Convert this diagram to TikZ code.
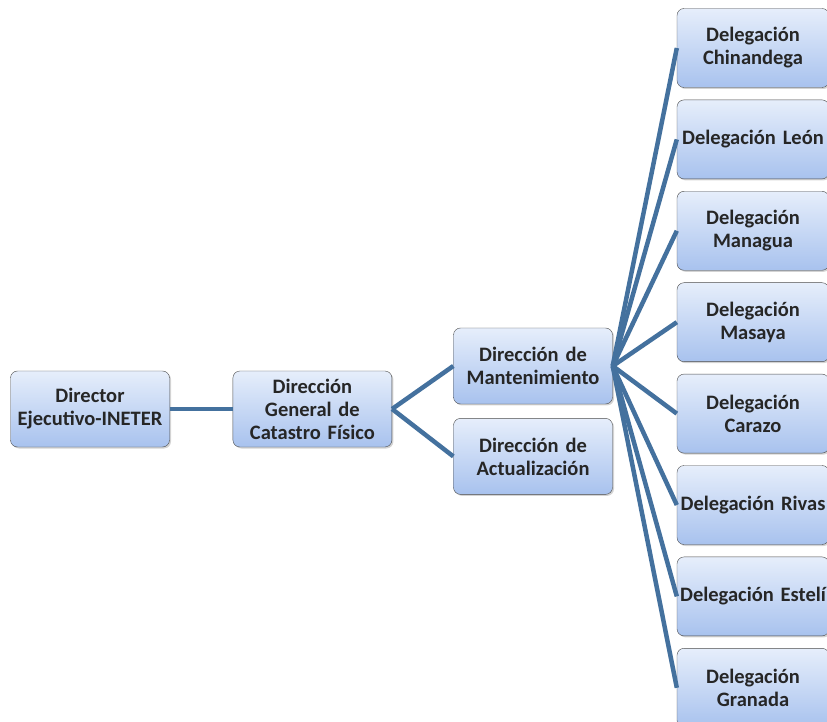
\documentclass[tikz,border=0pt]{standalone}
\usepackage{fontspec}
\setmainfont{Carlito}
\usepackage{xcolor}
\usetikzlibrary{positioning,shadows}

\definecolor{linkblue}{HTML}{44719E}
\definecolor{boxtop}{HTML}{E6EEFB}
\definecolor{boxbot}{HTML}{A8C2EE}

\begin{document}
\begin{tikzpicture}[
    x=1pt, y=1pt,
    node distance=12pt and 63pt,
    every node/.style={font=\fontsize{20.5}{23}\selectfont\bfseries, text=black!85},
    box/.style={draw=gray!60!black, rounded corners=7pt, top color=boxtop, bottom color=boxbot,
      minimum width=159pt, minimum height=76pt, text width=155pt, align=center, inner xsep=2pt,
      drop shadow={shadow xshift=1.5pt, shadow yshift=-1.5pt, opacity=0.35}},
    dbox/.style={box, minimum width=152pt, minimum height=79pt, text width=148pt},
    link/.style={draw=linkblue, line width=4.5pt}
  ]
  \useasboundingbox (0,0) rectangle (827,721);
  \clip (0,0) rectangle (827,721);

  % Direction chain (left)
  \node[box] (director) at (90,312) {Director\\ Ejecutivo-INETER};
  \node[box, right=of director] (general) {Dirección\\ General de\\ Catastro Físico};
  \node[box] (mant) at (533,355) {Dirección de\\ Mantenimiento};
  \node[box, below=14pt of mant] (actual) {Dirección de\\ Actualización};

  % Delegaciones (right column, cut at the page edge)
  \node[dbox] (chinandega) at (753,673) {Delegación\\ Chinandega};
  \node[dbox, below=of chinandega] (leon) {Delegación León};
  \node[dbox, below=of leon] (managua) {Delegación\\ Managua};
  \node[dbox, below=of managua] (masaya) {Delegación\\ Masaya};
  \node[dbox, below=of masaya] (carazo) {Delegación\\ Carazo};
  \node[dbox, below=of carazo] (rivas) {Delegación Rivas};
  \node[dbox, below=of rivas] (esteli) {Delegación Estelí};
  \node[dbox, below=of esteli] (granada) {Delegación\\ Granada};

  \path[link] (director.east) -- (general.west);
  \path[link] (general.east) -- (mant.west);
  \path[link] (general.east) -- (actual.west);
  \path[link] (mant.east) -- (chinandega.west);
  \path[link] (mant.east) -- (leon.west);
  \path[link] (mant.east) -- (managua.west);
  \path[link] (mant.east) -- (masaya.west);
  \path[link] (mant.east) -- (carazo.west);
  \path[link] (mant.east) -- (rivas.west);
  \path[link] (mant.east) -- (esteli.west);
  \path[link] (mant.east) -- (granada.west);
\end{tikzpicture}
\end{document}
